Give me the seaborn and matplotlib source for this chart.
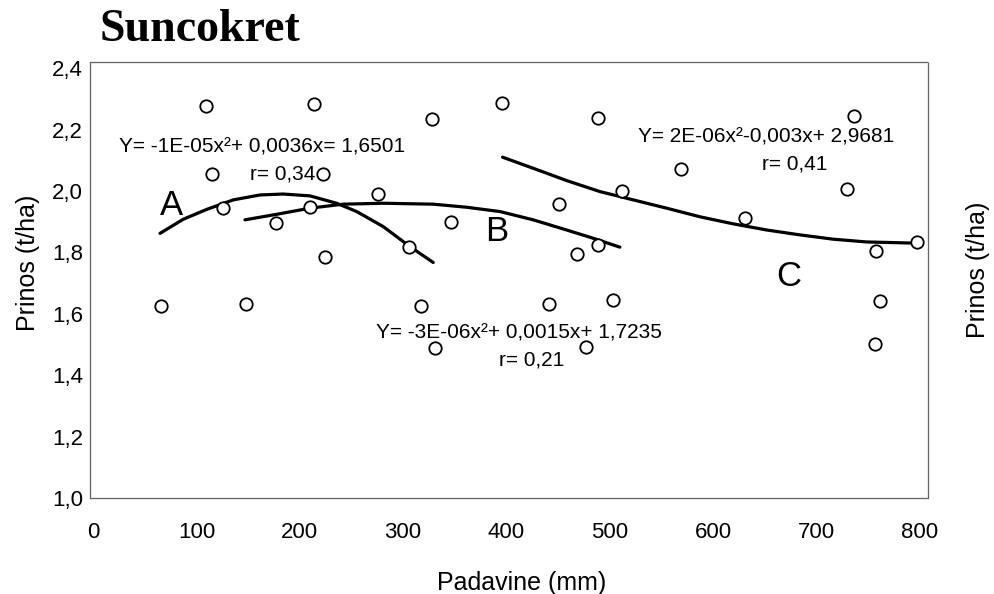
import matplotlib
matplotlib.use("Agg")
import matplotlib.pyplot as plt
import seaborn as sns
import pandas as pd

# ---- data ----
padavine = [109.3, 214.1, 114.8, 222.8, 125.5, 176.7, 209.9, 224.4, 65.5, 148.0,
            328.2, 395.9, 488.2, 275.4, 346.0, 450.8, 511.4, 306.0, 488.2, 467.9,
            317.3, 441.1, 503.3, 330.8, 476.9, 568.8, 736.2, 729.7, 630.7, 797.4,
            757.4, 762.0, 756.5]
prinos = [2.278, 2.282, 2.055, 2.055, 1.944, 1.897, 1.949, 1.784, 1.625, 1.631,
          2.234, 2.286, 2.239, 1.990, 1.900, 1.957, 2.000, 1.819, 1.824, 1.794,
          1.625, 1.631, 1.645, 1.488, 1.491, 2.072, 2.245, 2.006, 1.911, 1.835,
          1.805, 1.643, 1.502]

curve_a_x = [64.8, 87.4, 110.0, 135.7, 161.5, 184.1, 209.9, 235.7, 255.1, 280.8, 306.6, 329.2]
curve_a_y = [1.862, 1.908, 1.940, 1.971, 1.987, 1.990, 1.984, 1.960, 1.933, 1.884, 1.819, 1.767]
curve_b_x = [147.0, 177.7, 209.9, 242.1, 280.8, 329.2, 361.5, 393.7, 425.9, 458.2, 484.0, 509.8]
curve_b_y = [1.906, 1.924, 1.944, 1.957, 1.960, 1.957, 1.947, 1.933, 1.906, 1.873, 1.846, 1.817]
curve_c_x = [396.3, 425.9, 458.2, 490.5, 522.7, 555.0, 587.2, 619.4, 651.7, 684.0,
             716.1, 748.4, 796.8]
curve_c_y = [2.110, 2.074, 2.034, 1.998, 1.971, 1.944, 1.916, 1.893, 1.873, 1.857,
             1.843, 1.834, 1.830]

xticks = [0, 100, 200, 300, 400, 500, 600, 700, 800]
yticks = [1.0, 1.2, 1.4, 1.6, 1.8, 2.0, 2.2, 2.4]
ytick_labels = ["1,0", "1,2", "1,4", "1,6", "1,8", "2,0", "2,2", "2,4"]

eq_a = "Y= -1E-05x²+ 0,0036x= 1,6501"
r_a = "r= 0,34"
eq_b = "Y= -3E-06x²+ 0,0015x+ 1,7235"
r_b = "r= 0,21"
eq_c = "Y= 2E-06x²-0,003x+ 2,9681"
r_c = "r= 0,41"

title = "Suncokret"
xlabel = "Padavine (mm)"
ylabel = "Prinos (t/ha)"

# ---- figure ----
sns.set_style("white")
plt.rcParams["font.family"] = ["Liberation Sans", "DejaVu Sans"]
plt.rcParams["text.color"] = "black"
plt.rcParams["xtick.color"] = "black"
plt.rcParams["ytick.color"] = "black"
plt.rcParams["axes.labelcolor"] = "black"

fig = plt.figure(figsize=(9.94, 5.94), dpi=100)
ax = fig.add_axes([0.0905, 0.1616, 0.8431, 0.734])

df = pd.DataFrame({"x": padavine, "y": prinos})
sns.scatterplot(data=df, x="x", y="y", ax=ax, marker="o", s=80,
                facecolor="white", edgecolor="black", linewidth=1.3, zorder=3)

for cx, cy in [(curve_a_x, curve_a_y), (curve_b_x, curve_b_y), (curve_c_x, curve_c_y)]:
    cdf = pd.DataFrame({"x": cx, "y": cy})
    sns.lineplot(data=cdf, x="x", y="y", ax=ax, sort=False, estimator=None,
                 color="black", linewidth=2.3, zorder=2)
for ln in ax.lines:
    ln.set_solid_joinstyle("round")
    ln.set_solid_capstyle("round")

ax.set_xlim(-3, 808)
ax.set_ylim(1.0, 2.42)
ax.set_xticks(xticks)
ax.set_xticklabels([str(t) for t in xticks], fontsize=16)
ax.set_yticks(yticks)
ax.set_yticklabels(ytick_labels, fontsize=16)
ax.tick_params(axis="both", length=0)
ax.tick_params(axis="x", pad=17)
ax.tick_params(axis="y", pad=5)
ax.set_xlabel("")
ax.set_ylabel("")
for sp in ax.spines.values():
    sp.set_color("#666666")
    sp.set_linewidth(0.9)
    sp.set_linestyle((0, (1, 0.6)))

# annotations
ax.text(164.0, 2.144, eq_a, fontsize=15, ha="center", va="center")
ax.text(183.8, 2.055, r_a, fontsize=15, ha="center", va="center")
ax.text(412.1, 1.536, eq_b, fontsize=15, ha="center", va="center")
ax.text(424.4, 1.450, r_b, fontsize=15, ha="center", va="center")
ax.text(651.0, 2.177, eq_c, fontsize=15, ha="center", va="center")
ax.text(678.8, 2.088, r_c, fontsize=15, ha="center", va="center")
ax.text(76.1, 1.954, "A", fontsize=25, ha="center", va="center")
ax.text(390.5, 1.867, "B", fontsize=25, ha="center", va="center")
ax.text(673.6, 1.723, "C", fontsize=25, ha="center", va="center")

fig.text(100 / 994, 1 - 30 / 594, title, fontsize=33, fontweight="bold",
         family=["Liberation Serif", "DejaVu Serif"], ha="left", va="center")
fig.text(522 / 994, 1 - 583 / 594, xlabel, fontsize=18, ha="center", va="center")
fig.text(28 / 994, 1 - 263 / 594, ylabel, fontsize=18, ha="center", va="center",
         rotation=90)
fig.text(978 / 994, 1 - 270 / 594, ylabel, fontsize=18, ha="center", va="center",
         rotation=90)

fig.savefig("out.png", dpi=100, facecolor="white")
